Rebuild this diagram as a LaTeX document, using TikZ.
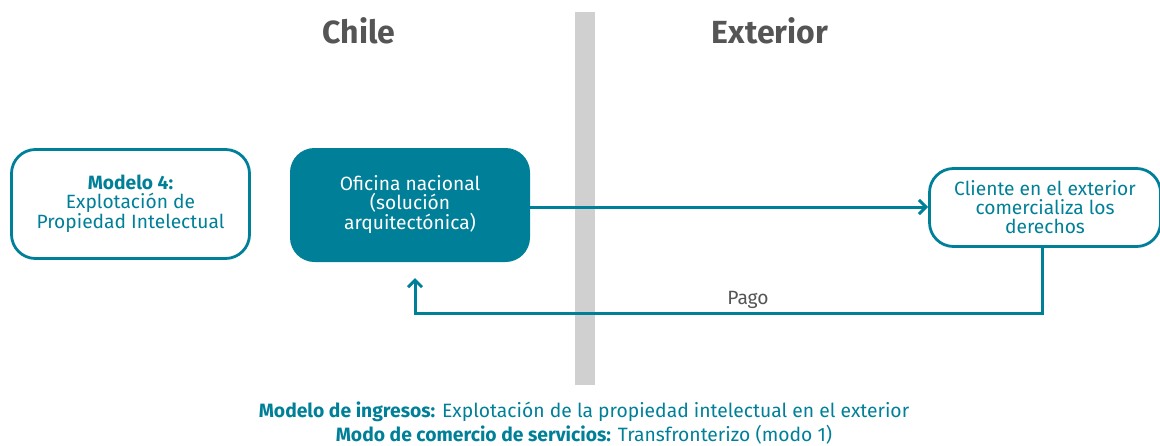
\documentclass[tikz,border=0pt]{standalone}
\usepackage{fontspec}
\setmainfont{Fira Sans}
\usetikzlibrary{arrows.meta}
\definecolor{teal1}{RGB}{0,128,152}
\definecolor{greybar}{RGB}{208,208,208}
\definecolor{darkgrey}{RGB}{85,85,85}
\begin{document}
\begin{tikzpicture}[x=1pt,y=-1pt,
  outbox/.style={draw=teal1,line width=2.8pt,rounded corners=24pt,fill=white,text=teal1,align=center,font=\fontsize{19.2}{19}\selectfont,inner sep=0pt},
  fillbox/.style={draw=teal1,fill=teal1,line width=1pt,rounded corners=24pt,text=white,align=center,font=\fontsize{19.2}{19}\selectfont,inner sep=0pt},
  conn/.style={draw=teal1,line width=3pt,-{Straight Barb[length=7pt,width=14pt,line width=3pt]}},
  title/.style={text=darkgrey,font=\fontsize{32}{34}\selectfont\bfseries},
  note/.style={text=teal1,font=\fontsize{19.3}{24}\selectfont,align=center}]
\useasboundingbox (0,0) rectangle (1160,445);
\fill[greybar] (575,12) rectangle (595,385);
\node[title] (chile) at (359,31) {Chile};
\node[title] (ext) at (770,31) {Exterior};
\node[outbox,minimum width=238pt,minimum height=109pt] (m4) at (130.5,204) {\textbf{Modelo 4:}\\Explotación de\\Propiedad Intelectual};
\node[fillbox,minimum width=239pt,minimum height=113pt] (of) at (410,205) {Oficina nacional\\(solución\\arquitectónica)};
\node[outbox,minimum width=231pt,minimum height=78pt] (cl) at (1045,207.5) {Cliente en el exterior\\comercializa los\\derechos};
\coordinate (c1) at (1042,313);
\coordinate (c2) at (415,313);
\coordinate (c3) at (415,278);
\draw[conn] (of.east |- 0,207) -- (cl.west |- 0,207);
\draw[conn,rounded corners=0pt] (1042,247) -- (c1) -- (c2) -- (c3);
\node[text=darkgrey,font=\fontsize{19.2}{19}\selectfont] (pago) at (748,300) {Pago};
\node[note] (bottom) at (584,423) {\textbf{Modelo de ingresos:} Explotación de la propiedad intelectual en el exterior\\\textbf{Modo de comercio de servicios:} Transfronterizo (modo 1)};
\end{tikzpicture}
\end{document}
